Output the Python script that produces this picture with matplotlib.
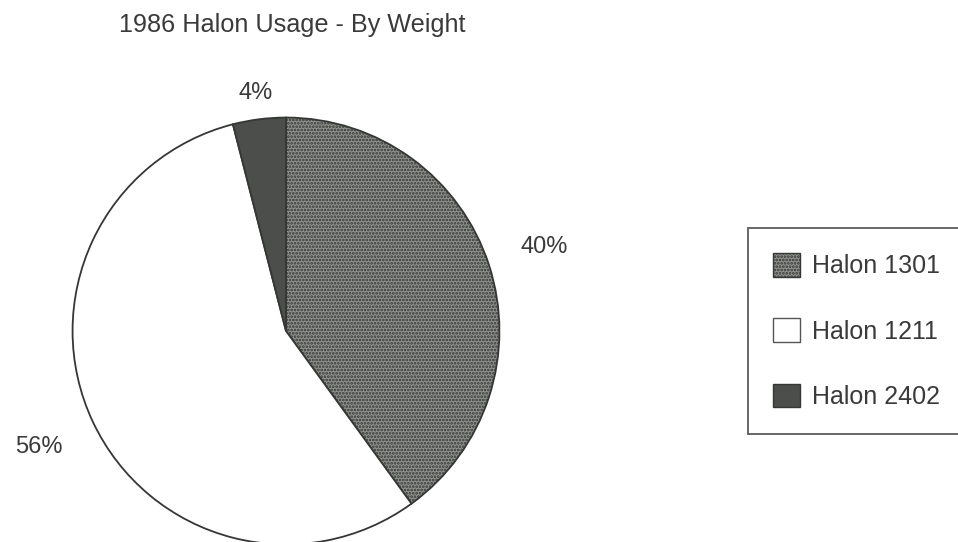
import matplotlib
matplotlib.use("Agg")
import matplotlib.pyplot as plt
from matplotlib.patches import Patch

plt.rcParams['font.family'] = ['Liberation Sans', 'DejaVu Sans']
plt.rcParams['hatch.linewidth'] = 1.3

title = "1986 Halon Usage - By Weight"
categories = ["Halon 1301", "Halon 1211", "Halon 2402"]
values = [40, 56, 4]
label_dist = [1.27, 1.28, 1.125]

face = ['#8f918d', '#ffffff', '#4b4e4b']
hatches = ['.....', None, None]
edge = '#353735'
txt = '#3a3a3a'

fig = plt.figure(figsize=(9.58, 5.42), dpi=100)
fig.patch.set_facecolor('white')

ax = fig.add_axes([71.5 / 958, (542 - 331 - 214.5) / 542, 429 / 958, 429 / 542])
wedges, texts, autotexts = ax.pie(
    values, colors=face, startangle=90, counterclock=False,
    autopct='%1.0f%%', pctdistance=1.0, radius=1,
    wedgeprops=dict(edgecolor=edge, linewidth=1.3),
    textprops=dict(fontsize=17, color=txt))
for w, h in zip(wedges, hatches):
    if h:
        w.set_hatch(h)
for t, d in zip(autotexts, label_dist):
    x, y = t.get_position()
    t.set_position((x * d, y * d))
ax.set_xlim(-1.005, 1.005)
ax.set_ylim(-1.005, 1.005)
ax.set_aspect('equal')
ax.axis('off')
for w in wedges:
    w.set_clip_on(False)

fig.text(119 / 958, 1 - 25 / 542, title, fontsize=18.2, color=txt,
         ha='left', va='center')

handles = [Patch(facecolor=f, edgecolor=edge if f != '#ffffff' else '#555555',
                 hatch=h, linewidth=1.0) for f, h in zip(face, hatches)]
leg = fig.legend(handles, categories, loc='upper left',
                 bbox_to_anchor=(748 / 958, 1 - 228 / 542),
                 fontsize=18, frameon=True, fancybox=False,
                 handlelength=1.08, handleheight=1.08, handletextpad=0.5,
                 labelspacing=1.6, borderpad=1.0, borderaxespad=0)
leg.get_frame().set_edgecolor('#333333')
leg.get_frame().set_linewidth(1.3)
for t in leg.get_texts():
    t.set_color(txt)

fig.savefig('out.png', dpi=100, facecolor='white')
